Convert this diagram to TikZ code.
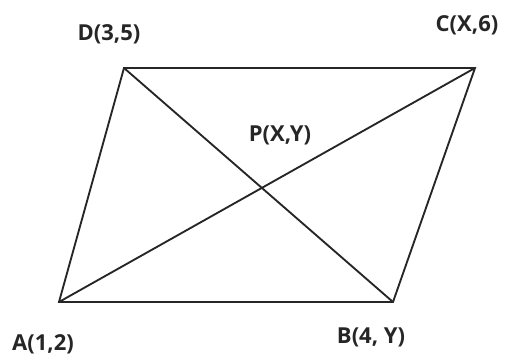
\documentclass[tikz,border=0pt]{standalone}
\usepackage{fontspec}
\setmainfont{Open Sans}
\usetikzlibrary{positioning}

\tikzset{
  edge/.style={line width=1.4pt, color=black!85},
  vlabel/.style={inner sep=0.75pt, font=\fontsize{16.5}{19}\selectfont\bfseries, text=black!85}
}

\begin{document}
\begin{tikzpicture}[x=0.75pt,y=0.75pt,yscale=-1,xscale=1]
\useasboundingbox (0,0) rectangle (507,356);

% Vertices
\coordinate (A) at (59,302);
\coordinate (B) at (393,302);
\coordinate (C) at (475,68);
\coordinate (D) at (124,68);

% Sides of the parallelogram
\draw [edge] (A) -- (B) -- (C) -- (D) -- cycle ;
% Diagonals
\draw [edge] (A) -- (C) ;
\draw [edge] (D) -- (B) ;

% Text Node
\draw (109,34) node [vlabel] (labD) {D(3,5)};
% Text Node
\draw (467,25) node [vlabel] (labC) {C(X,6)};
% Text Node
\draw (280,135) node [vlabel] (labP) {P(X,Y)};
% Text Node
\draw (43,344) node [vlabel] (labA) {A(1,2)};
% Text Node
\draw (371,337) node [vlabel] (labB) {B(4, Y)};

\end{tikzpicture}
\end{document}
